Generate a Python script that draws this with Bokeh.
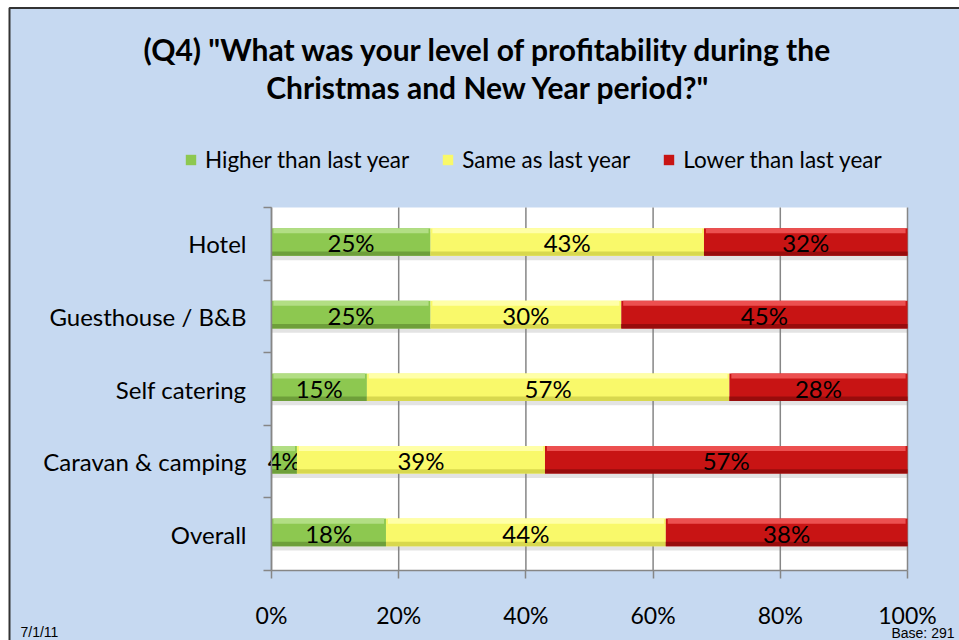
from bokeh.plotting import figure
from bokeh.models import (ColumnDataSource, FixedTicker, Legend, LegendItem,
                          Label, Range1d, PrintfTickFormatter)
from bokeh.embed import file_html
from bokeh.resources import INLINE
from bokeh.core.properties import value

# ---------------- data ----------------
categories = ["Hotel", "Guesthouse / B&B", "Self catering", "Caravan & camping", "Overall"]
higher = [25, 25, 15, 4, 18]
same = [43, 30, 57, 39, 44]
lower = [32, 45, 28, 57, 38]
series_names = ["Higher than last year", "Same as last year", "Lower than last year"]
x_ticks = [0, 20, 40, 60, 80, 100]
title_lines = ['(Q4) "What was your level of profitability during the',
               'Christmas and New Year period?"']
date_note = "7/1/11"
base_note = "Base: 291"

# ---------------- styles / layout ----------------
FONT = "Lato"
BG = "#C6D9F1"
GRID = "#868686"
palette = {
    "base": ["#8DC850", "#F9F96A", "#C81414"],
    "top": ["#B2DE84", "#FFFFA8", "#EC5050"],
    "bottom": ["#6E9F3A", "#D8D84E", "#980C0C"],
}
BAR_H = 0.38
BAR_SHIFT = 0.025                    # bars sit slightly above category centre
W, H = 959, 640                      # canvas
PL, PR, PT, PB = 271, 907, 207, 570  # plot-area edges in canvas px

n = len(categories)
ypos = [n - i for i in range(n)]  # first category on top
bar_y = [y + BAR_SHIFT for y in ypos]
X0, X1 = 0, 100
Y0, Y1 = 0.5, n + 0.5
sx = (X1 - X0) / (PR - PL)
sy = (Y1 - Y0) / (PB - PT)


def fx(px):  # canvas px (from left) -> data x
    return X0 + (px - PL) * sx


def fy(py):  # canvas px (from top) -> data y
    return Y1 + (PT - py) * sy


p = figure(width=W, height=H, x_range=Range1d(fx(0), fx(W)), y_range=Range1d(fy(H), fy(0)),
           output_backend="svg", toolbar_location=None, title=None)
p.min_border_left = p.min_border_right = p.min_border_top = p.min_border_bottom = 0
p.min_border = 0
p.background_fill_color = "white"
p.border_fill_color = "white"
p.outline_line_color = None
p.xgrid.grid_line_color = None
p.ygrid.grid_line_color = None

# chart area background with its border (left/top edges visible)
p.quad(left=[fx(9)], right=[fx(W + 20)], top=[fy(7.5)], bottom=[fy(H + 20)],
       fill_color=BG, line_color="#333333", line_width=2)
# white plot area
p.quad(left=[X0], right=[X1], top=[Y1], bottom=[Y0], fill_color="white", line_color=None)
# vertical grid lines
p.segment(x0=x_ticks, x1=x_ticks, y0=[Y0] * len(x_ticks), y1=[Y1] * len(x_ticks),
          line_color=GRID, line_width=1.5)

# shadow under each full bar
totals = [a + b + c for a, b, c in zip(higher, same, lower)]
p.hbar(y=[y - 0.06 for y in bar_y], left=[0] * n, right=totals, height=BAR_H,
       fill_color="#808080", fill_alpha=0.22, line_color=None)

series = [higher, same, lower]
left = [0] * n
base_renderers = []
for k, vals in enumerate(series):
    right = [l + v for l, v in zip(left, vals)]
    src = ColumnDataSource(dict(y=bar_y, left=left, right=right,
                                mid=[(l + r) / 2 for l, r in zip(left, right)],
                                lab=[f"{v}%" for v in vals]))
    r = p.hbar(y="y", left="left", right="right", height=BAR_H, source=src,
               fill_color=palette["base"][k], line_color=None)
    base_renderers.append(r)
    # bevel highlights
    p.hbar(y=[y + BAR_H / 2 - 0.035 for y in bar_y], left=[l + 0.3 for l in left],
           right=[rr - 0.3 for rr in right], height=0.07,
           fill_color=palette["top"][k], line_color=None)
    p.hbar(y=[y - BAR_H / 2 + 0.03 for y in bar_y], left=left, right=right, height=0.06,
           fill_color=palette["bottom"][k], line_color=None)
    p.text(x="mid", y="y", text="lab", source=src, text_align="center",
           text_baseline="middle", text_font=value(FONT), text_font_size="24px",
           text_color="black", y_offset=1)
    left = right

# ---------------- axes ----------------
p.xaxis.fixed_location = Y0
p.xaxis.bounds = (X0, X1)
p.xaxis.ticker = FixedTicker(ticks=x_ticks)
p.xaxis.formatter = PrintfTickFormatter(format="%d%%")
p.xaxis.axis_line_color = GRID
p.xaxis.axis_line_width = 1.5
p.xaxis.major_tick_line_color = GRID
p.xaxis.major_tick_line_width = 1.5
p.xaxis.major_tick_out = 8
p.xaxis.major_tick_in = 0
p.xaxis.minor_tick_line_color = None
p.xaxis.major_label_text_font = FONT
p.xaxis.major_label_text_font_size = "23px"
p.xaxis.major_label_text_color = "black"
p.xaxis.major_label_standoff = 22

p.yaxis.fixed_location = X0
p.yaxis.bounds = (Y0, Y1)
p.yaxis.ticker = FixedTicker(ticks=ypos, minor_ticks=[Y0 + i for i in range(n + 1)])
p.yaxis.major_label_overrides = {y: c for y, c in zip(ypos, categories)}
p.yaxis.axis_line_color = GRID
p.yaxis.axis_line_width = 1.5
p.yaxis.major_tick_line_color = None
p.yaxis.minor_tick_line_color = GRID
p.yaxis.minor_tick_line_width = 1.5
p.yaxis.minor_tick_out = 8
p.yaxis.minor_tick_in = 0
p.yaxis.major_label_text_font = FONT
p.yaxis.major_label_text_font_size = "24px"
p.yaxis.major_label_text_color = "black"
p.yaxis.major_label_standoff = 17

# ---------------- legend ----------------
legend = Legend(items=[LegendItem(label=nm, renderers=[r]) for nm, r in zip(series_names, base_renderers)],
                orientation="horizontal", location=(184, H - 173),
                background_fill_alpha=0, border_line_color=None,
                label_text_font=FONT, label_text_font_size="22.5px", label_text_color="black",
                glyph_width=13, glyph_height=13, spacing=32, label_standoff=8,
                margin=0, padding=4)
p.add_layout(legend)

# ---------------- titles ----------------
for line, cy in zip(title_lines, [48, 86]):
    p.add_layout(Label(x=fx(488), y=fy(cy), text=line, text_font=FONT, text_font_size="30px",
                       text_font_style="bold", text_color="black",
                       text_align="center", text_baseline="middle"))

# ---------------- footnotes ----------------
p.add_layout(Label(x=fx(20), y=fy(631), text=date_note, text_font="Liberation Sans",
                   text_font_size="14px", text_baseline="middle", text_align="left",
                   text_color="black"))
p.add_layout(Label(x=fx(954), y=fy(632), text=base_note, text_font="Liberation Sans",
                   text_font_size="14px", text_baseline="middle", text_align="right",
                   text_color="black"))

open("out.html", "w").write(file_html(p, INLINE))
